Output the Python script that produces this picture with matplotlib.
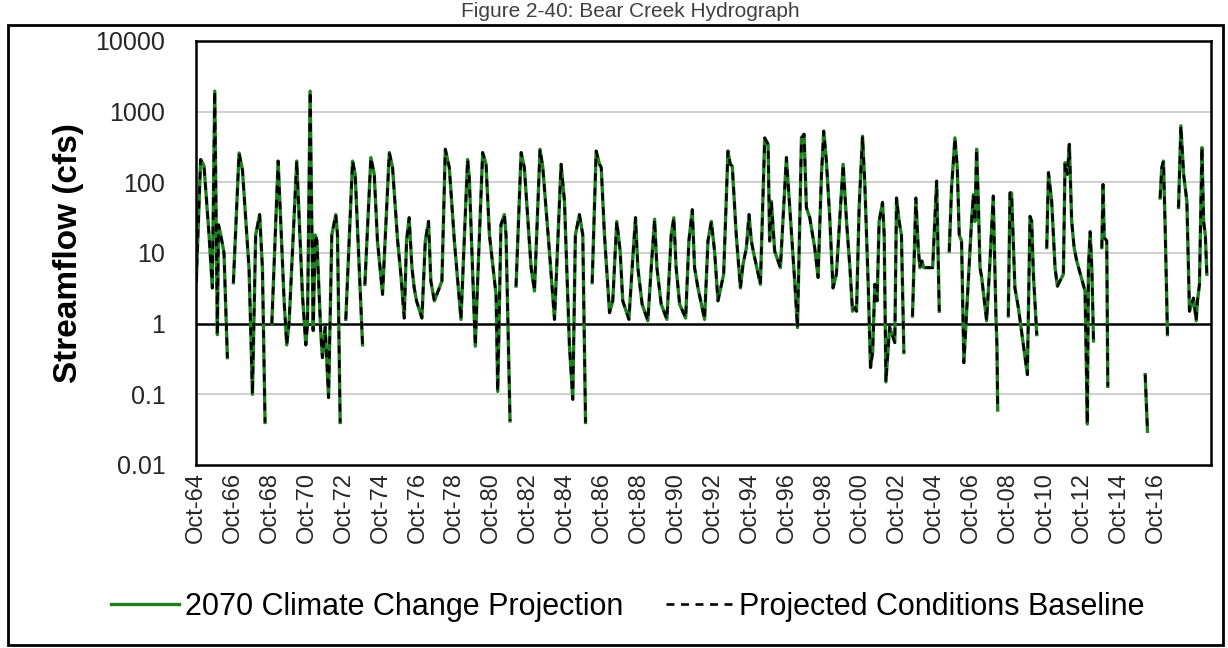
import matplotlib

matplotlib.use("Agg")
import matplotlib.pyplot as plt
import numpy as np
from matplotlib.patches import Rectangle

# months since Oct-1964 and streamflow (cfs), read at peaks/troughs; None = gap (zero flow on log axis)
MONTHS = [
    0.2, 3.0, 4.2, 5.2, 8.5, 10.6, 12.2, 13.9, 14.6, 16.1, 18.2, 20.4, 22.0,
    24.3, 28.0, 30.2, 34.5, 36.7, 38.8, 41.4, 43.2, 44.9, 47.0,
    49.3, 53.4, 57.3, 59.0, 60.5, 65.5, 69.2, 71.4, 72.5, 74.2, 76.2, 77.5, 78.6, 81.2, 82.2,
    84.0, 86.2, 88.3, 90.9, 92.0, 93.75, 95.5,
    97.4, 101.8, 103.5, 106.1, 108.3, 109.0,
    109.8, 113.7, 115.9, 118.0, 121.3, 125.7, 127.8, 131.1, 133.2, 135.4, 136.9, 138.6,
    140.4, 141.9, 143.4, 146.9, 149.1, 151.2, 152.7, 155.0, 159.9, 162.1, 164.7, 168.0,
    172.3, 176.6, 177.7, 181.6, 183.1, 186.4, 188.6, 190.8, 195.1, 196.2, 198.3, 200.5,
    201.6, 204.2, 206.0,
    208.1, 211.4, 213.5, 217.9, 220.1, 223.7, 225.5, 229.8, 233.1, 237.4, 239.6, 242.8,
    245.0, 246.7, 249.3, 251.5, 253.3, 255.5,
    257.6, 260.2, 262.4, 263.5, 265.6, 268.9, 271.0, 273.6, 275.8, 277.5, 281.5, 283.6,
    285.8, 287.3, 290.1, 293.8, 296.0, 298.2, 299.7, 302.5, 306.2, 309.0, 310.7, 312.2,
    314.5, 318.4, 320.5, 322.7, 324.2, 326.4, 330.7, 332.9, 335.1, 337.2, 339.4,
    343.1, 345.9, 347.4, 348.7, 351.3, 354.0, 355.7, 357.9, 359.6, 361.1, 362.6, 367.0,
    369.8, 372.0, 373.0, 374.1, 376.3, 380.0, 383.9, 386.1, 389.3, 391.1, 392.6, 393.7,
    395.4, 396.9, 399.1, 402.3, 404.5, 406.7, 408.2, 409.9, 412.1, 414.2, 416.4, 420.8,
    423.0, 425.2, 426.9, 428.5, 429.5, 431.2, 433.4, 434.9, 437.1, 438.6, 440.0, 441.4,
    442.9, 444.2, 446.4, 447.5, 448.6, 451.0, 454.4, 455.5, 457.2, 458.7, 460.3, 463.0,
    465.9, 468.1, 469.6, 470.7, 472.0, 473.3, 479.0, 481.6, 483.3, 486.0,
    489.8, 491.3, 493.5, 495.0, 496.3, 497.8, 499.3, 501.1, 504.3, 505.5, 506.5, 507.6,
    508.7, 509.8, 510.9, 514.1, 516.3, 518.4, 520.2, 520.8, 521.3, 524.0,
    528.2, 529.3, 530.3, 531.4, 532.5, 534.7, 540.6, 542.3, 543.4, 544.5, 546.7, 550.0,
    553.2, 554.3, 556.4, 558.6, 560.1, 564.0, 565.1, 566.6, 567.9, 569.4, 571.0, 572.7,
    578.1, 579.6, 580.3, 581.4, 582.5, 583.6, 586.0,
    589.0, 589.8, 590.6, 592.2, 592.9, 600.0,
    617.2, 618.7, 622.0,
    626.9, 628.0, 629.1, 630.2, 631.7, 635.0,
    638.9, 640.4, 642.2, 644.3, 646.0, 648.6, 650.4, 651.2, 652.5, 654.1, 655.2, 656.3, 657.3,
]
FLOW_2070 = [
    4, 210, 190, 170, 18, 3.2, 1950, 0.7, 25, 18, 10, 0.33, None,
    3.8, 260, 150, 6, 0.1, 18, 35, 6, 0.04, None,
    1.0, 200, 2.1, 0.5, 1.0, 200, 2.6, 0.5, 1.0, 1950, 0.8, 18, 15, 0.7, 0.33,
    0.9, 0.09, 18, 35, 18, 0.04, None,
    1.15, 200, 130, 6.2, 0.5, None,
    3.6, 224, 130, 14.8, 2.6, 264, 162, 15, 5, 1.2, 15, 31.6,
    6.2, 3.2, 2.1, 1.2, 14.8, 28, 4, 2.1, 4, 294, 162, 14.8,
    1.15, 210, 117, 0.48, 3.8, 264, 180, 18, 2.6, 0.11, 25, 35,
    18, 0.042, None,
    3.4, 264, 162, 6.2, 2.9, 294, 162, 10.6, 1.15, 180, 54, 0.5,
    0.085, 18, 35, 18, 0.04, None,
    3.8, 277, 180, 162, 18, 1.43, 2.1, 28, 10.6, 2.1, 1.15, 6.2,
    31.6, 6.2, 1.88, 1.1, 6.2, 30, 6.2, 1.88, 1.15, 18, 31.6, 6.2,
    1.88, 1.2, 14.8, 41, 6.2, 3.2, 1.15, 14.8, 28, 10.6, 2.1,
    5, 277, 180, 170, 18, 3.2, 6.9, 11.9, 35, 14.8, 10, 3.6,
    425, 345, 14.8, 54, 10.6, 6.2, 224, 44, 4, 0.88, 28, 425,
    480, 44, 31.6, 11.9, 4.5, 130, 530, 200, 31.6, 3.2, 5, 180,
    28, 6.2, 1.5, 1.7, 1.5, 44, 450, 94, 3.6, 0.24, 0.4, 3.6,
    2.1, 28, 52, 18, 0.15, 0.9, 0.54, 60, 28, 18, 0.39, None,
    1.28, 60, 11.9, 6.2, 7.7, 6.2, 6.2, 104, 1.5, None,
    10.6, 84, 425, 162, 18, 14.8, 0.28, 1.5, 28, 67, 28, 294,
    54, 6.2, 4.5, 1.1, 7.7, 64, 1.2, 0.5, 0.06, None,
    1.28, 71, 71, 14.8, 3.2, 1.7, 0.19, 33, 28, 5, 0.7, None,
    11.9, 137, 54, 6.2, 3.4, 5, 190, 130, 345, 28, 11.9, 7.7,
    2.9, 0.038, 6.2, 20, 6.2, 0.57, None,
    11.9, 93, 16.5, 14.8, 0.13, None,
    0.19, 0.03, None,
    60, 162, 200, 23, 0.7, None,
    44, 630, 130, 54, 1.5, 2.3, 1.1, 2.1, 3.6, 310, 28, 18, 5,
]
# the baseline trace sits on top of the 2070 trace at this scale
FLOW_BASELINE = list(FLOW_2070)

TICK_MONTHS = list(range(0, 625, 24))
TICK_LABELS = [f"Oct-{(64 + 2 * i) % 100:02d}" for i in range(len(TICK_MONTHS))]
Y_TICKS = [0.01, 0.1, 1, 10, 100, 1000, 10000]
Y_LABELS = ["0.01", "0.1", "1", "10", "100", "1000", "10000"]

FONT = ["Liberation Sans", "DejaVu Sans"]
GREEN = "#1f7f1f"

x = np.array(MONTHS, dtype=float)
y_2070 = np.array([np.nan if v is None else v for v in FLOW_2070], dtype=float)
y_base = np.array([np.nan if v is None else v for v in FLOW_BASELINE], dtype=float)

fig = plt.figure(figsize=(12.28, 6.48), dpi=100)
ax = fig.add_axes((196 / 1228, 1 - 465 / 648, 1015 / 1228, 424 / 648))

ax.set_yscale("log")
ax.set_ylim(0.01, 10000)
ax.set_xlim(0, 660)

for v in [0.1, 10, 100, 1000]:
    ax.axhline(v, color="#c8c8c8", linewidth=1.2, zorder=0)
ax.axhline(1, color="black", linewidth=1.8, zorder=1)

(l1,) = ax.plot(x, y_2070, color=GREEN, linewidth=2.4, zorder=2,
                label="2070 Climate Change Projection")
(l2,) = ax.plot(x, y_base, color="black", linewidth=1.9, dashes=(3, 2.5), zorder=3,
                label="Projected Conditions Baseline")

ax.set_yticks(Y_TICKS)
ax.set_yticklabels(Y_LABELS, family=FONT, fontsize=18, color="#262626")
ax.yaxis.set_minor_locator(matplotlib.ticker.NullLocator())
ax.set_xticks(TICK_MONTHS)
ax.set_xticklabels(TICK_LABELS, rotation=90, family=FONT, fontsize=17, color="#262626")
ax.tick_params(axis="both", length=0)
ax.tick_params(axis="y", pad=22)
ax.tick_params(axis="x", pad=5)
for s in ax.spines.values():
    s.set_linewidth(1.8)
    s.set_color("black")

fig.text(69 / 1228, 1 - 253 / 648, "Streamflow (cfs)", rotation=90, ha="center", va="center",
         fontsize=24, fontweight="bold", family=FONT)

leg = fig.legend(handles=[l1, l2], loc="center", bbox_to_anchor=(628 / 1228, 1 - 607 / 648),
                 ncol=2, frameon=False, handlelength=2.2, handletextpad=0.2,
                 columnspacing=1.4, prop={"family": FONT, "size": 22})

fig.text(630 / 1228, 1 - 2 / 648, "Figure 2-40: Bear Creek Hydrograph", ha="center", va="top",
         fontsize=15, color="#404040", family=FONT)

fig.patches.append(Rectangle((8 / 1228, 3 / 648), 1215 / 1228, 620 / 648, transform=fig.transFigure,
                             fill=False, edgecolor="black", linewidth=2))

fig.savefig("out.png", dpi=100)
